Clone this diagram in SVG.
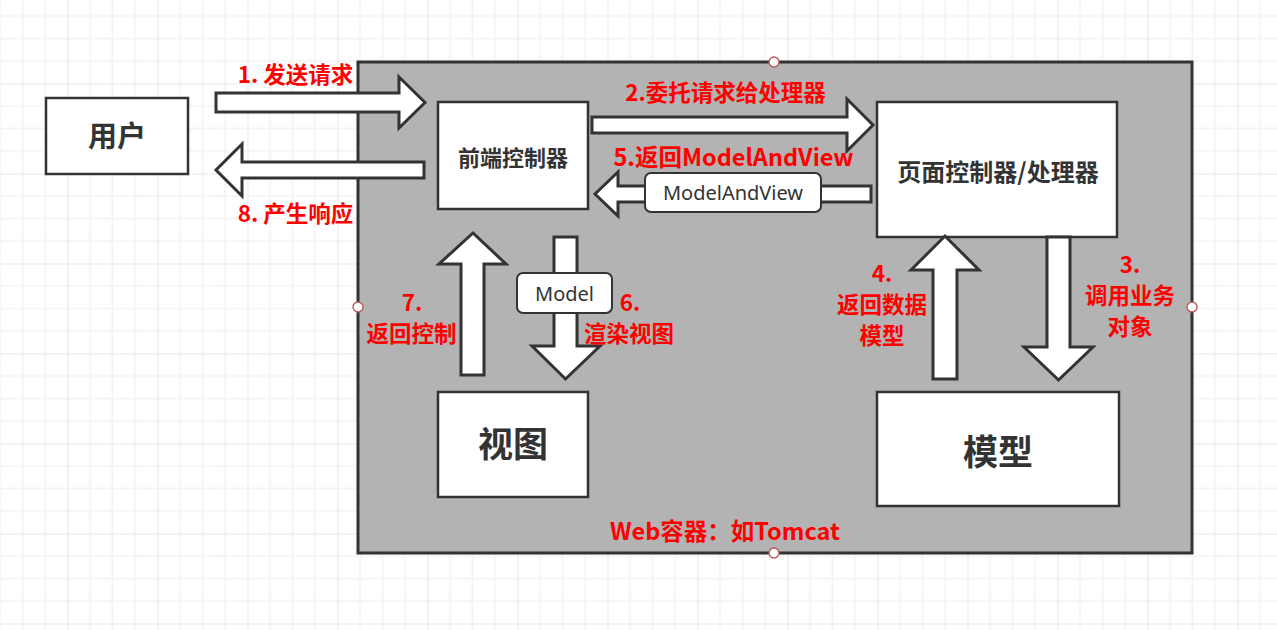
<svg xmlns="http://www.w3.org/2000/svg" width="1277" height="630" viewBox="0 0 1277 630">
<defs>
<pattern id="grid" patternUnits="userSpaceOnUse" x="67.5" y="83.5" width="90" height="90">
<rect width="90" height="90" fill="#ffffff"/>
<path d="M22.5 0V90M45 0V90M67.5 0V90M0 22.5H90M0 45H90M0 67.5H90" stroke="#f2f2f2" stroke-width="1.6" fill="none"/>
<path d="M0 0V90M0 0H90" stroke="#e6e6e6" stroke-width="2" fill="none"/>
</pattern>
<style>
.box{fill:#ffffff;stroke:#333333;stroke-width:2.5}
.arr{fill:#ffffff;stroke:#333333;stroke-width:3;stroke-linejoin:miter}
.lab{fill:#ffffff;stroke:#333333;stroke-width:2}
.nt{font-family:"Noto Sans CJK SC","Noto Sans",sans-serif;font-weight:bold;fill:#333333;text-anchor:middle}
.red{font-family:"Noto Sans CJK SC","Noto Sans",sans-serif;font-weight:bold;fill:#ff0000;font-size:22.5px;text-anchor:middle}
.big{font-size:23.5px}
.lt{font-family:"Noto Sans","Open Sans","Noto Sans CJK SC",sans-serif;fill:#333333;font-size:20px;text-anchor:middle}
.hd{fill:#ffffff;stroke:#b85450;stroke-width:1.3}
</style>
</defs>
<rect width="1277" height="630" fill="url(#grid)"/>

<g id="container">
<rect x="358" y="62" width="834" height="491" fill="#b3b3b3" stroke="#333333" stroke-width="3"/>
<text class="red big" x="725" y="540">Web容器：如Tomcat</text>
</g>

<g id="user">
<rect class="box" x="46" y="98" width="142" height="76"/>
<text class="nt" x="117" y="147" font-size="29">用户</text>
</g>

<g id="front-controller">
<rect class="box" x="438" y="102" width="150" height="107"/>
<text class="nt" x="513" y="166" font-size="22">前端控制器</text>
</g>

<g id="page-controller">
<rect class="box" x="877" y="102" width="240" height="135"/>
<text class="nt" x="998" y="181" font-size="24">页面控制器/处理器</text>
</g>

<g id="view">
<rect class="box" x="438" y="392" width="150" height="105"/>
<text class="nt" x="513" y="457" font-size="35">视图</text>
</g>

<g id="model">
<rect class="box" x="877" y="392" width="242" height="114"/>
<text class="nt" x="998" y="465" font-size="35">模型</text>
</g>

<g id="connectors">
<polygon class="arr" points="216,93 399,93 399,77 425,102.5 399,128 399,112 216,112"/>
<polygon class="arr" points="424,162 242,162 242,144 216,170 242,196 242,178 424,178"/>
<polygon class="arr" points="592,117 847,117 847,99 873,125 847,151 847,133 592,133"/>
<polygon class="arr" points="871,186 618,186 618,172 595,194 618,216 618,202 871,202"/>
<polygon class="arr" points="461,375 461,264 439,264 473,233 506,264 484,264 484,375"/>
<polygon class="arr" points="554,237 577,237 577,346 600,346 565.5,379 532,346 554,346"/>
<polygon class="arr" points="933,379 933,270 911,270 945,236 979,270 957,270 957,379"/>
<polygon class="arr" points="1047,237 1070,237 1070,347 1093,347 1058.5,380 1024,347 1047,347"/>
<rect class="lab" x="645" y="173" width="176" height="39" rx="6"/>
<text class="lt" x="733" y="200">ModelAndView</text>
<rect class="lab" x="517" y="273" width="95" height="40" rx="6"/>
<text class="lt" x="564.5" y="301">Model</text>
<text class="red" x="295.5" y="83">1. 发送请求</text>
<text class="red" x="295.5" y="222">8. 产生响应</text>
<text class="red" x="725.5" y="101">2.委托请求给处理器</text>
<text class="red big" x="733.5" y="166">5.返回ModelAndView</text>
<text class="red" x="412" y="311">7.<tspan x="411.5" y="342">返回控制</tspan></text>
<text class="red" x="630" y="311">6.<tspan x="629" y="342">渲染视图</tspan></text>
<text class="red" x="882" y="282">4.<tspan x="882" y="313">返回数据</tspan><tspan x="882" y="344">模型</tspan></text>
<text class="red" x="1130" y="273">3.<tspan x="1130" y="304">调用业务</tspan><tspan x="1130" y="335">对象</tspan></text>
</g>

<g id="handles">
<circle class="hd" cx="774" cy="62" r="5"/>
<circle class="hd" cx="358" cy="307" r="5"/>
<circle class="hd" cx="1192" cy="307" r="5"/>
<circle class="hd" cx="774" cy="553" r="5"/>
</g>
</svg>
